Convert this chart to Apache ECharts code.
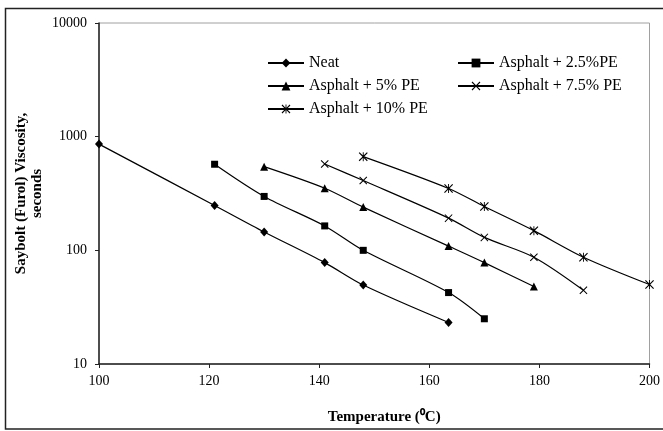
<!DOCTYPE html>
<html>
<head>
<meta charset="utf-8">
<script src="https://cdn.jsdelivr.net/npm/echarts@6/dist/echarts.min.js"></script>
<style>
  html, body { margin: 0; padding: 0; background: #fff; }
  #chart { width: 663px; height: 431px; }
</style>
</head>
<body>
<div id="chart"></div>
<script>
  // temperatures (°C) and Saybolt Furol viscosity (s)
  var neatTemp = [100, 121, 130, 141, 148, 163.5];
  var neatVisc = [860, 248, 145, 78, 49.5, 23.2];
  var pe25Temp = [121, 130, 141, 148, 163.5, 170];
  var pe25Visc = [572, 298, 164, 100, 42.5, 25];
  var pe5Temp = [130, 141, 148, 163.5, 170, 179];
  var pe5Visc = [545, 352, 240, 109, 78, 48];
  var pe75Temp = [141, 148, 163.5, 170, 179, 188];
  var pe75Visc = [575, 411, 192, 130, 87, 44.5];
  var pe10Temp = [148, 163.5, 170, 179, 188, 200];
  var pe10Visc = [667, 350, 243, 149, 87, 50];

  var seriesNames = ['Neat', 'Asphalt + 2.5%PE', 'Asphalt + 5% PE', 'Asphalt + 7.5% PE', 'Asphalt + 10% PE'];

  var FONT = '"Liberation Serif", "Times New Roman", serif';
  // thin X and asterisk marks as filled paths
  var crossPath = 'path://M0,0.9 L0.9,0 L5,4.1 L9.1,0 L10,0.9 L5.9,5 L10,9.1 L9.1,10 L5,5.9 L0.9,10 L0,9.1 L4.1,5 Z';
  var starPath = 'path://M0,0.9 L0.9,0 L5,4.1 L9.1,0 L10,0.9 L5.9,5 L10,9.1 L9.1,10 L5,5.9 L0.9,10 L0,9.1 L4.1,5 Z M4.5,0 L5.5,0 L5.5,10 L4.5,10 Z';

  function pairs(xs, ys) {
    var out = [];
    for (var i = 0; i < xs.length; i++) {
      out.push([xs[i], ys[i]]);
    }
    return out;
  }

  function mkSeries(name, xs, ys, symbol, size) {
    return {
      name: name,
      type: 'line',
      smooth: 0.3,
      data: pairs(xs, ys),
      symbol: symbol,
      symbolSize: size,
      showAllSymbol: true,
      color: '#000',
      lineStyle: { color: '#000', width: 1.2 },
      itemStyle: { color: '#000' },
      z: 3
    };
  }

  var chart = echarts.init(document.getElementById('chart'));

  var option = {
    backgroundColor: '#fff',
    animation: false,
    textStyle: { fontFamily: FONT, color: '#000' },
    grid: {
      left: 99,
      right: 10,
      top: 23,
      bottom: 67,
      show: true,
      borderColor: '#a0a0a0',
      borderWidth: 1,
      backgroundColor: 'transparent'
    },
    legend: [
      {
        data: [seriesNames[0], seriesNames[2], seriesNames[4]],
        orient: 'vertical',
        left: 262,
        top: 50,
        itemWidth: 36,
        itemHeight: 11,
        itemGap: 7,
        textStyle: { fontFamily: FONT, fontSize: 16, color: '#000' }
      },
      {
        data: [seriesNames[1], seriesNames[3]],
        orient: 'vertical',
        left: 452,
        top: 50,
        itemWidth: 36,
        itemHeight: 11,
        itemGap: 7,
        textStyle: { fontFamily: FONT, fontSize: 16, color: '#000' }
      }
    ],
    xAxis: {
      type: 'value',
      min: 100,
      max: 200,
      interval: 20,
      name: 'Temperature (⁰C)',
      nameLocation: 'middle',
      nameGap: 46,
      nameMoveOverlap: false,
      nameTextStyle: { fontFamily: FONT, fontSize: 15, fontWeight: 'bold', color: '#000', padding: [0, 0, 0, 20] },
      axisLine: { lineStyle: { color: '#222', width: 1.5 } },
      axisTick: { inside: false, length: 4, lineStyle: { color: '#222' } },
      axisLabel: { fontFamily: FONT, fontSize: 14, color: '#000', margin: 10 },
      splitLine: { show: false }
    },
    yAxis: {
      type: 'log',
      logBase: 10,
      min: 10,
      max: 10000,
      name: 'Saybolt (Furol) Viscosity,\nseconds',
      nameLocation: 'middle',
      nameRotate: 90,
      nameGap: 54,
      nameMoveOverlap: false,
      nameTextStyle: { fontFamily: FONT, fontSize: 15, fontWeight: 'bold', color: '#000', lineHeight: 16, align: 'center' },
      axisLine: { show: true, lineStyle: { color: '#222', width: 1.5 } },
      axisTick: { show: true, inside: false, length: 4, lineStyle: { color: '#222' } },
      axisLabel: {
        fontFamily: FONT, fontSize: 14, color: '#000', margin: 12,
        formatter: function (v) { return String(Math.round(v)); }
      },
      splitLine: { show: false },
      minorTick: { show: false }
    },
    graphic: [
      {
        type: 'rect',
        silent: true,
        z: 100,
        shape: { x: 5.5, y: 8.5, width: 700, height: 420.5 },
        style: { fill: 'none', stroke: '#222', lineWidth: 1.5 }
      }
    ],
    series: [
      mkSeries(seriesNames[0], neatTemp, neatVisc, 'diamond', [8, 9]),
      mkSeries(seriesNames[1], pe25Temp, pe25Visc, 'rect', 7),
      mkSeries(seriesNames[2], pe5Temp, pe5Visc, 'triangle', 8),
      mkSeries(seriesNames[3], pe75Temp, pe75Visc, crossPath, 8),
      mkSeries(seriesNames[4], pe10Temp, pe10Visc, starPath, 9)
    ]
  };

  chart.setOption(option);
  window.addEventListener('resize', function () {
    chart.resize();
  });
</script>
</body>
</html>
